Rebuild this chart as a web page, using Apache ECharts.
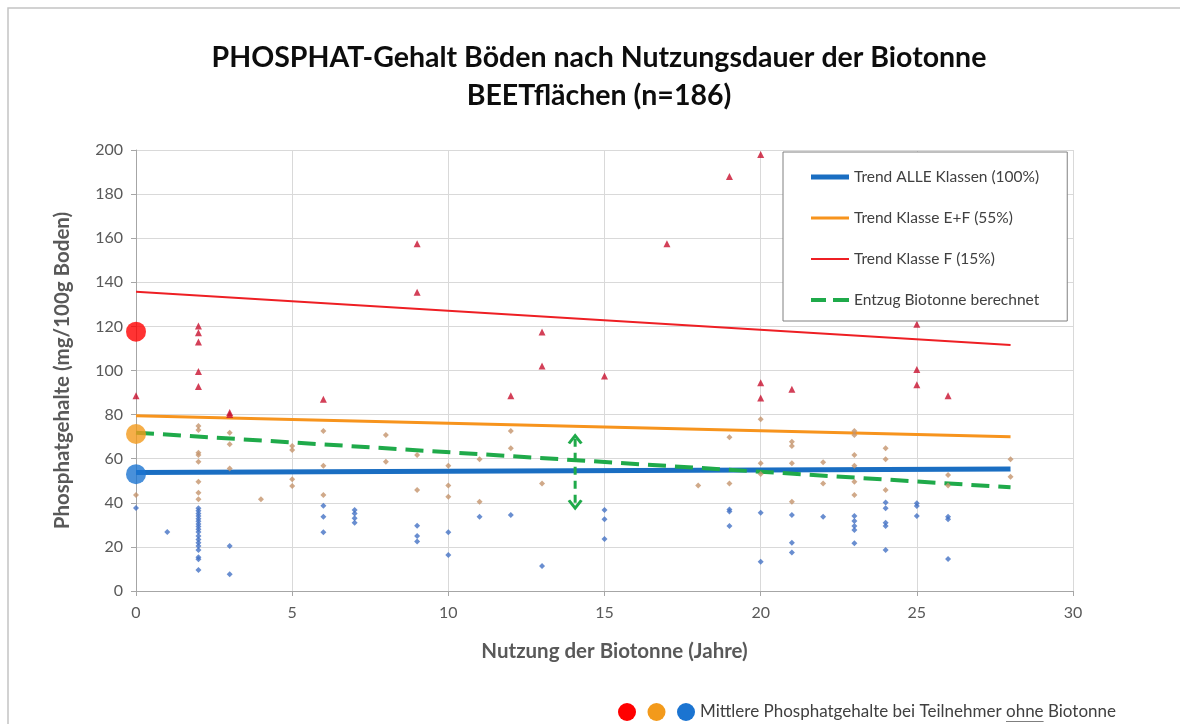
<!DOCTYPE html>
<html>
<head>
<meta charset="utf-8">
<title>PHOSPHAT-Gehalt Böden</title>
<script src="https://cdn.jsdelivr.net/npm/echarts@6/dist/echarts.min.js"></script>
<style>
    html, body {margin: 0; padding: 0; background: #fff;}
    #chart {width: 1180px; height: 724px;}
</style>
</head>
<body>
<div id="chart"></div>
<script>
/* Tick labels of the axes. */
var xTicks = [0, 5, 10, 15, 20, 25, 30];
var yTicks = [0, 20, 40, 60, 80, 100, 120, 140, 160, 180, 200];

/* Single samples, [years, mg/100g]. */
var klasseF = [
    [0, 88.5], [2, 120.2], [2, 117.1], [2, 112.9], [2, 99.5], [2, 92.7], [3, 81], [3, 80],
    [6, 87], [9, 157.5], [9, 135.5], [12, 88.5], [13, 117.5], [13, 102], [15, 97.5],
    [17, 157.5], [19, 188], [20, 198], [20, 94.5], [20, 87.5], [21, 91.5],
    [25, 121], [25, 100.5], [25, 93.5], [26, 88.5]
];
var klasseE = [
    [0, 43.5], [2, 74.8], [2, 73], [2, 62.7], [2, 61.7], [2, 58.6], [2, 49.6], [2, 44.6], [2, 41.6],
    [3, 71.8], [3, 66.5], [3, 55.6], [4, 41.6], [5, 65.8], [5, 63.9], [5, 50.7], [5, 47.6],
    [6, 72.6], [6, 56.8], [6, 43.5], [8, 70.7], [8, 58.6], [9, 61.7], [9, 45.8],
    [10, 56.8], [10, 47.8], [10, 42.8], [11, 59.7], [11, 40.5], [12, 72.6], [12, 64.7],
    [13, 48.8], [18, 47.8], [19, 69.7], [19, 48.8], [20, 77.9], [20, 57.9], [20, 53.1],
    [21, 67.7], [21, 65.8], [21, 57.9], [21, 40.5], [22, 58.4], [22, 48.8],
    [23, 72.6], [23, 70.7], [23, 61.7], [23, 56.8], [23, 49.6], [23, 43.5],
    [24, 64.7], [24, 59.7], [24, 45.8], [26, 52.6], [26, 47.8], [28, 59.7], [28, 51.8]
];
var klasseRest = [
    [0, 37.6], [1, 26.8],
    [2, 37.5], [2, 36.4], [2, 35.2], [2, 34], [2, 32.8], [2, 31.6], [2, 30.4], [2, 29.2], [2, 28],
    [2, 26.8], [2, 24.9], [2, 23.4], [2, 21.9], [2, 20.4], [2, 18.6], [2, 15.3], [2, 14.4], [2, 9.5],
    [3, 20.4], [3, 7.6], [6, 38.7], [6, 33.7], [6, 26.6], [7, 36.7], [7, 35.2], [7, 33], [7, 31],
    [9, 29.6], [9, 24.9], [9, 22.4], [10, 26.6], [10, 16.3], [11, 33.7], [12, 34.5], [13, 11.3],
    [15, 36.7], [15, 32.5], [15, 23.6], [19, 37], [19, 36], [19, 29.5], [20, 35.5], [20, 13.3],
    [21, 34.5], [21, 21.9], [21, 17.5], [22, 33.7], [23, 34], [23, 31.7], [23, 29.5], [23, 27.7],
    [23, 21.6], [24, 40.1], [24, 37.5], [24, 31], [24, 29.5], [24, 18.6], [25, 39.8], [25, 38.5],
    [25, 34], [26, 33.7], [26, 32.5], [26, 14.5]
];

/* Trend lines, start and end. */
var trendAlle   = [[0, 53.7], [28, 55.3]];
var trendEF     = [[0, 79.5], [28, 70]];
var trendF      = [[0, 135.7], [28, 111.6]];
var entzug      = [[0, 71.8], [28, 47]];
var entzugPfeil = [[14.06, 69], [14.06, 39]];

/* Mean values without Biotonne (x = 0). */
var ohneF    = [[0, 117.6]];
var ohneEF   = [[0, 71.2]];
var ohneAlle = [[0, 53]];

var legendNames = ['Trend ALLE Klassen (100%)', 'Trend Klasse E+F (55%)', 'Trend Klasse F (15%)', 'Entzug Biotonne berechnet'];
var noteText    = ['Mittlere Phosphatgehalte bei Teilnehmer ', 'ohne', ' Biotonne'];

var FONT    = 'Lato, "Open Sans", sans-serif';
var CHEVRON = 'path://M0,9 L6,0 L12,9 L10,10.5 L6,4.5 L2,10.5 Z';

/* Legend icons: plain bars of the line width, dashes for the green one. */
var legendIcons = [
    'path://M0,0 H38 V5 H0 Z',
    'path://M0,0 H38 V3 H0 Z',
    'path://M0,0 H38 V2 H0 Z',
    'path://M0,0 H15 V4 H0 Z M22,0 H38 V4 H22 Z'
];

/**
 * Build the note below the chart, with "ohne" underlined.
 *
 * @access public
 * @return array
 */
function buildNote()
{
    var font = '17px ' + FONT;
    var ctx  = document.createElement('canvas').getContext('2d');
    ctx.font = font;
    var y      = 712;
    var parts  = [];
    var colors = ['#ff0000', '#f39a1b', '#1b74d1'];

    colors.forEach(function(color, i)
    {
        parts.push({type: 'circle', shape: {cx: 627 + i * 29.5, cy: y, r: 9}, style: {fill: color}});
    });

    var x = 700;
    noteText.forEach(function(txt, i)
    {
        var w = ctx.measureText(txt).width;
        parts.push({type: 'text', x: x, y: y, style: {text: txt, font: font, fill: '#404040', textVerticalAlign: 'middle'}});
        if(i == 1) parts.push({type: 'line', shape: {x1: x, y1: y + 9.5, x2: x + w, y2: y + 9.5}, style: {stroke: '#7f7f7f', lineWidth: 1}});
        x += w;
    });
    return parts;
}

var trendLine = function(name, data, color, width, dash)
{
    return {
        name: name,
        type: 'line',
        data: data,
        symbol: 'none',
        silent: true,
        color: color,
        lineStyle: {color: color, width: width, type: dash ? [18, 9] : 'solid'}
    };
};

var dots = function(name, data, symbol, size, color)
{
    return {
        name: name,
        type: 'scatter',
        data: data,
        symbol: symbol,
        symbolSize: size,
        itemStyle: {color: color},
        z: 3
    };
};

function drawChart()
{
    var chart = echarts.init(document.getElementById('chart'));
    var option =
    {
        animation: false,
        backgroundColor: '#fff',
        title:
        {
            text: 'PHOSPHAT-Gehalt Böden nach Nutzungsdauer der Biotonne\nBEETflächen (n=186)',
            left: 599,
            top: 39,
            padding: 0,
            textAlign: 'center',
            textStyle: {fontFamily: FONT, fontSize: 28.5, fontWeight: 'bold', color: '#0d0d0d', lineHeight: 38}
        },
        grid: {left: 136, right: 107, top: 150, bottom: 133},
        legend:
        {
            data: legendNames.map(function(name, i) { return {name: name, icon: legendIcons[i]}; }),
            orient: 'vertical',
            left: 783,
            top: 152,
            itemWidth: 38,
            itemHeight: 14,
            itemGap: 25,
            padding: [17, 28, 13, 28],
            borderColor: '#808080',
            borderWidth: 1,
            backgroundColor: '#fff',
            textStyle: {fontFamily: FONT, fontSize: 15.5, color: '#404040'}
        },
        xAxis:
        {
            type: 'value',
            min: xTicks[0],
            max: xTicks[xTicks.length - 1],
            interval: 5,
            name: 'Nutzung der Biotonne (Jahre)',
            nameLocation: 'middle',
            nameGap: 50,
            nameTextStyle: {fontFamily: FONT, fontSize: 20.5, fontWeight: 'bold', color: '#595959', padding: [0, 0, 0, 20]},
            axisLine: {lineStyle: {color: '#a6a6a6'}},
            axisTick: {show: true, length: 5, lineStyle: {color: '#a6a6a6'}},
            axisLabel: {fontFamily: FONT, fontSize: 16, color: '#595959', margin: 14},
            splitLine: {show: true, lineStyle: {color: '#d9d9d9'}}
        },
        yAxis:
        {
            type: 'value',
            min: yTicks[0],
            max: yTicks[yTicks.length - 1],
            interval: 20,
            name: 'Phosphatgehalte (mg/100g Boden)',
            nameLocation: 'middle',
            nameGap: 63,
            nameTextStyle: {fontFamily: FONT, fontSize: 20.5, fontWeight: 'bold', color: '#595959'},
            axisLine: {show: true, lineStyle: {color: '#a6a6a6'}},
            axisTick: {show: true, length: 5, lineStyle: {color: '#a6a6a6'}},
            axisLabel: {fontFamily: FONT, fontSize: 16, color: '#595959', margin: 13},
            splitLine: {show: true, lineStyle: {color: '#d9d9d9'}}
        },
        graphic:
        [
            /* Outer frame, only top and left edge are in view. */
            {type: 'rect', shape: {x: 8, y: 8, width: 1300, height: 900}, style: {fill: 'none', stroke: '#c4c4c4', lineWidth: 1.5}, z: -1}
        ].concat(buildNote()),
        series:
        [
            trendLine(legendNames[0], trendAlle, '#1a6ec2', 5, false),
            trendLine(legendNames[1], trendEF, '#f7941d', 3, false),
            trendLine(legendNames[2], trendF, '#ee1f24', 2, false),
            trendLine(legendNames[3], entzug, '#1faa4a', 4, true),
            {
                name: 'Pfeil',
                type: 'line',
                data:
                [
                    {value: entzugPfeil[0], symbol: CHEVRON, symbolSize: [15, 11], symbolRotate: 0},
                    {value: entzugPfeil[1], symbol: CHEVRON, symbolSize: [15, 11], symbolRotate: 180}
                ],
                showSymbol: true,
                itemStyle: {color: '#1faa4a'},
                lineStyle: {color: '#1faa4a', width: 3, type: [8, 6]}
            },
            dots('Klasse F', klasseF, 'triangle', 7, '#c8102e'),
            dots('Klasse E', klasseE, 'diamond', 6, '#c4936c'),
            dots('Andere', klasseRest, 'diamond', 6, '#4472c4'),
            dots('ohne F', ohneF, 'circle', 20, '#ff0000'),
            dots('ohne E+F', ohneEF, 'circle', 20, '#f39a1b'),
            dots('ohne Alle', ohneAlle, 'circle', 20, '#1b74d1')
        ]
    };
    chart.setOption(option);
}

/* Wait for the font so the measured widths fit the drawn text. */
if(document.fonts && document.fonts.load)
{
    Promise.all([document.fonts.load('17px Lato'), document.fonts.load('bold 17px Lato')]).then(drawChart, drawChart);
}
else
{
    drawChart();
}
</script>
</body>
</html>
